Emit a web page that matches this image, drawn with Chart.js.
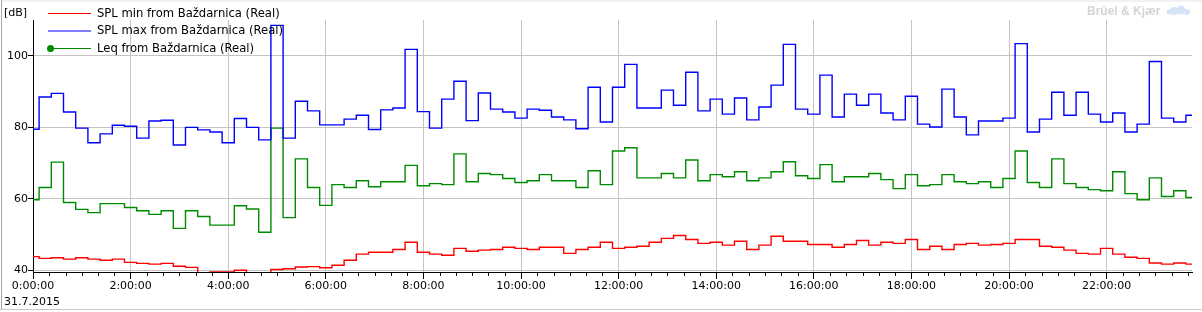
<!DOCTYPE html>
<html>
<head>
<meta charset="utf-8">
<script src="https://cdn.jsdelivr.net/npm/chart.js@4.4.1/dist/chart.umd.min.js"></script>
<style>
  html, body { margin: 0; padding: 0; background: #fff; }
  #wrap { width: 1202px; height: 312px; position: relative; }
</style>
</head>
<body>
<div id="wrap"><canvas id="grafico"></canvas></div>
<script>
// Hodnoty po 15 minutách (0:00 .. 23:45), dB
const casy = Array.from({ length: 96 }, (_, i) => i * 0.25); // hodiny

const splMin = [
  43.9, 43.4, 43.6, 43.2, 43.6, 43.2, 42.9, 43.2, 42.3, 42.0, 41.8, 42.0, 41.2, 40.9, 38.0, 39.6,
  39.6, 40.1, 38.0, 38.0, 40.3, 40.5, 41.0, 41.1, 40.8, 41.5, 42.9, 44.6, 45.1, 45.1, 45.9, 47.9,
  45.1, 44.6, 44.3, 46.2, 45.4, 45.7, 45.9, 46.5, 46.2, 45.9, 46.5, 46.5, 44.8, 45.9, 46.5, 47.9,
  46.2, 46.5, 46.8, 47.9, 49.0, 49.8, 48.7, 47.6, 47.9, 47.1, 48.2, 45.9, 47.1, 49.6, 48.2, 48.2,
  47.3, 47.3, 46.5, 47.3, 48.4, 47.1, 47.9, 47.6, 48.7, 45.9, 46.8, 45.9, 47.3, 47.6, 47.1, 47.3,
  47.6, 48.7, 48.7, 46.8, 46.5, 45.7, 44.8, 44.6, 46.2, 44.6, 43.7, 43.4, 42.1, 41.8, 42.1, 41.8
];

const splMax = [
  79.5, 88.5, 89.5, 84.3, 79.8, 75.7, 78.2, 80.6, 80.3, 77.0, 81.8, 82.0, 75.1, 80.0, 79.3, 78.7,
  75.7, 82.5, 80.0, 76.5, 108.5, 77.0, 87.3, 84.6, 80.7, 80.7, 82.3, 83.4, 79.4, 84.9, 85.4, 101.8,
  84.4, 79.8, 87.9, 92.9, 81.9, 89.6, 85.1, 84.3, 82.6, 85.1, 84.8, 82.9, 82.1, 79.6, 91.2, 81.5,
  91.2, 97.6, 85.4, 85.4, 90.4, 86.2, 95.4, 84.6, 87.9, 83.7, 88.2, 82.1, 85.7, 91.8, 103.2, 85.1,
  83.7, 94.6, 82.9, 89.3, 86.2, 89.3, 84.0, 82.1, 88.7, 80.9, 80.1, 90.7, 82.9, 77.9, 81.8, 81.8,
  82.6, 103.4, 78.7, 82.3, 89.8, 83.4, 89.8, 83.7, 81.5, 84.0, 78.7, 80.9, 98.4, 82.6, 81.5, 83.4
];

const leq = [
  59.8, 63.2, 70.3, 59.0, 57.1, 56.2, 58.7, 58.7, 57.6, 56.7, 55.7, 56.7, 51.8, 56.7, 55.1, 52.7,
  52.7, 58.1, 57.2, 50.7, 79.8, 54.8, 71.2, 63.2, 58.2, 64.0, 63.2, 65.1, 63.4, 64.8, 64.8, 69.4,
  63.7, 64.3, 64.0, 72.6, 64.8, 67.1, 66.8, 65.7, 64.6, 65.1, 66.8, 65.1, 65.1, 63.2, 67.9, 64.0,
  73.4, 74.3, 65.9, 65.9, 67.1, 65.9, 70.9, 65.1, 66.8, 66.2, 67.6, 65.1, 65.9, 67.6, 70.4, 66.5,
  65.7, 69.6, 64.8, 66.2, 66.2, 67.1, 65.4, 62.9, 66.8, 63.7, 64.0, 66.8, 64.8, 64.3, 64.8, 63.2,
  65.7, 73.4, 64.6, 63.2, 71.2, 64.3, 63.2, 62.6, 62.3, 67.6, 61.5, 59.8, 65.9, 60.7, 62.3, 60.4
];

const nazvy = ['SPL min from Baždarnica (Real)', 'SPL max from Baždarnica (Real)', 'Leq from Baždarnica (Real)'];
const barvy = ['#ff0000', '#0000ff', '#008c00'];
const datum = '31.7.2015';
const jednotka = '[dB]';

const pismo = '"DejaVu Sans", sans-serif';

function body(hodnoty) {
  return hodnoty.map((v, i) => ({ x: casy[i], y: v }));
}

function hhmmss(v) {
  return v + ':00:00';
}

// Legenda, popisky, vedlejší značky na ose X a rámeček
const dekorace = {
  id: 'dekorace',
  afterDraw(chart) {
    const c = chart.ctx;
    const x = chart.scales.x;
    const area = chart.chartArea;
    c.save();

    // vedlejší značky každých 20 minut
    c.strokeStyle = '#000';
    c.lineWidth = 1;
    c.beginPath();
    for (let m = 0; m <= x.max * 60 + 0.01; m += 20) {
      if (m % 120 === 0) continue;
      const px = Math.round(x.getPixelForValue(m / 60)) + 0.5;
      c.moveTo(px, area.bottom);
      c.lineTo(px, area.bottom + 4);
    }
    c.stroke();

    // rámeček
    c.strokeStyle = '#a8a8a8';
    c.beginPath();
    c.moveTo(1.5, 0);
    c.lineTo(1.5, 310);
    c.stroke();
    c.strokeStyle = '#c8c8c8';
    c.beginPath();
    c.moveTo(0, 309.5);
    c.lineTo(1202, 309.5);
    c.stroke();
    c.fillStyle = '#f2f2f2';
    c.fillRect(2, 0, 1200, 2);

    c.fillStyle = '#000';
    c.font = '11px ' + pismo;
    c.textBaseline = 'middle';
    c.textAlign = 'left';
    c.fillText(jednotka, 4, 13);
    c.fillText(datum, 4, 302);

    // legenda
    c.font = '11.6px ' + pismo;
    const radky = [13.5, 31, 48.5];
    nazvy.forEach((n, i) => {
      const y = radky[i];
      c.strokeStyle = barvy[i];
      c.lineWidth = 1.2;
      c.beginPath();
      c.moveTo(48, y);
      c.lineTo(91, y);
      c.stroke();
      if (i === 2) {
        c.fillStyle = barvy[i];
        c.beginPath();
        c.arc(50.5, y, 3.5, 0, Math.PI * 2);
        c.fill();
      }
      c.fillStyle = '#000';
      c.fillText(n, 97, y);
    });

    // vodoznak
    c.fillStyle = '#d4d4d4';
    c.font = 'bold 12px "Liberation Sans", Arial, sans-serif';
    c.fillText('Brüel & Kjær', 1087, 11.5);
    c.fillStyle = '#d6e4f7';
    [[1174, 11, 4], [1181, 10, 4.5], [1187, 12, 3], [1169, 12, 2.5]].forEach(p => {
      c.beginPath();
      c.arc(p[0], p[1], p[2], 0, Math.PI * 2);
      c.fill();
    });
    c.restore();
  }
};

const ctx = document.getElementById('grafico').getContext('2d');

const config = {
  type: 'line',
  data: {
    datasets: [0, 1, 2].map(i => ({
      label: nazvy[i],
      data: body([splMin, splMax, leq][i]),
      borderColor: barvy[i],
      backgroundColor: barvy[i],
      borderWidth: 1.4,
      pointRadius: 0,
      stepped: 'middle',
      fill: false
    }))
  },
  options: {
    responsive: true,
    maintainAspectRatio: false,
    animation: false,
    layout: { padding: { top: 20, right: 10, left: 0, bottom: 0 } },
    scales: {
      x: {
        type: 'linear',
        min: 0,
        max: 23.75,
        afterFit: s => { s.height = 40; },
        border: { color: '#000', width: 1 },
        grid: {
          color: '#c4c4c4',
          tickColor: '#000',
          tickLength: 7,
          drawTicks: true
        },
        ticks: {
          stepSize: 2,
          includeBounds: false,
          autoSkip: false,
          maxRotation: 0,
          padding: 1,
          color: '#000',
          font: { family: pismo, size: 11 },
          callback: v => hhmmss(v)
        }
      },
      y: {
        min: 39.6,
        max: 110,
        afterFit: s => { s.width = 33; },
        border: { color: '#000', width: 1 },
        grid: {
          color: '#c4c4c4',
          tickColor: '#000',
          tickLength: 5
        },
        ticks: {
          stepSize: 20,
          includeBounds: false,
          padding: 0,
          color: '#000',
          font: { family: pismo, size: 11 }
        }
      }
    },
    plugins: {
      legend: { display: false },
      tooltip: { enabled: false }
    }
  },
  plugins: [dekorace]
};

const graf = new Chart(ctx, config);
</script>
</body>
</html>
